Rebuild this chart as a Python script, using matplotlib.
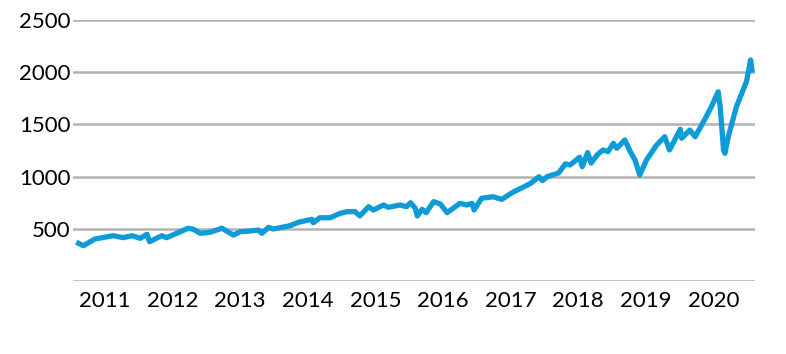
import matplotlib
matplotlib.use("Agg")
import matplotlib.pyplot as plt

# Time (fractional years) and index values
years = [2010.61, 2010.68, 2010.85, 2011.12, 2011.27, 2011.40, 2011.52, 2011.62,
         2011.66, 2011.76, 2011.84, 2011.91, 2012.06, 2012.23, 2012.31, 2012.41,
         2012.55, 2012.73, 2012.90, 2013.00, 2013.15, 2013.27, 2013.32, 2013.42,
         2013.49, 2013.74, 2013.86, 2014.06, 2014.08, 2014.18, 2014.33, 2014.48,
         2014.58, 2014.70, 2014.77, 2014.90, 2014.97, 2015.02, 2015.12, 2015.19,
         2015.36, 2015.46, 2015.52, 2015.59, 2015.62, 2015.69, 2015.75, 2015.86,
         2015.96, 2016.06, 2016.25, 2016.35, 2016.43, 2016.46, 2016.57, 2016.74,
         2016.87, 2016.99, 2017.05, 2017.20, 2017.30, 2017.42, 2017.47, 2017.54,
         2017.71, 2017.81, 2017.88, 2018.02, 2018.06, 2018.14, 2018.19, 2018.29,
         2018.37, 2018.44, 2018.52, 2018.57, 2018.69, 2018.77, 2018.84, 2018.91,
         2019.01, 2019.16, 2019.28, 2019.35, 2019.51, 2019.53, 2019.65, 2019.73,
         2019.88, 2019.97, 2020.07, 2020.10, 2020.15, 2020.17, 2020.22, 2020.34,
         2020.44, 2020.49, 2020.55, 2020.57]
values = [361, 338, 402, 434, 415, 434, 409, 447,
          376, 409, 434, 415, 457, 505, 495, 457,
          466, 505, 440, 472, 479, 488, 457, 514,
          498, 530, 562, 591, 558, 606, 606, 648,
          664, 664, 623, 712, 680, 696, 728, 706,
          728, 712, 750, 696, 623, 687, 654, 760,
          738, 654, 744, 728, 744, 680, 792, 807,
          782, 833, 856, 903, 936, 999, 961, 999,
          1035, 1122, 1111, 1185, 1095, 1230, 1130, 1215,
          1255, 1239, 1319, 1271, 1351, 1239, 1159, 1015,
          1159, 1303, 1382, 1255, 1453, 1367, 1446, 1382,
          1558, 1670, 1813, 1670, 1255, 1223, 1382, 1670,
          1830, 1913, 2117, 2021]

year_ticks = [2011, 2012, 2013, 2014, 2015, 2016, 2017, 2018, 2019, 2020]
year_labels = ["2011", "2012", "2013", "2014", "2015", "2016", "2017", "2018", "2019", "2020"]
y_ticks = [500, 1000, 1500, 2000, 2500]
y_labels = ["500", "1000", "1500", "2000", "2500"]

fig = plt.figure(figsize=(7.86, 3.54), dpi=100)
ax = fig.add_axes([73 / 786, 1 - 281 / 354, (755 - 73) / 786, (281 - 20) / 354])

for g in [0] + y_ticks:
    ax.axhline(g, color="#b3b3b3", lw=1.8, zorder=1)

ax.plot(years, values, color="#0f9bd7", lw=3.8, solid_joinstyle="round", zorder=3)

ax.set_xlim(2010.527, 2020.615)
ax.set_ylim(0, 2500)
ax.set_xticks(year_ticks)
ax.set_xticklabels(year_labels)
ax.set_yticks(y_ticks)
ax.set_yticklabels(y_labels)
for s in ax.spines.values():
    s.set_visible(False)
ax.tick_params(axis="both", length=0, labelsize=16, colors="black")
ax.tick_params(axis="y", pad=2)
ax.tick_params(axis="x", pad=7)
for lab in ax.get_xticklabels() + ax.get_yticklabels():
    lab.set_fontfamily("Lato")
ax.patch.set_alpha(0)

fig.savefig("out.png", dpi=100)
